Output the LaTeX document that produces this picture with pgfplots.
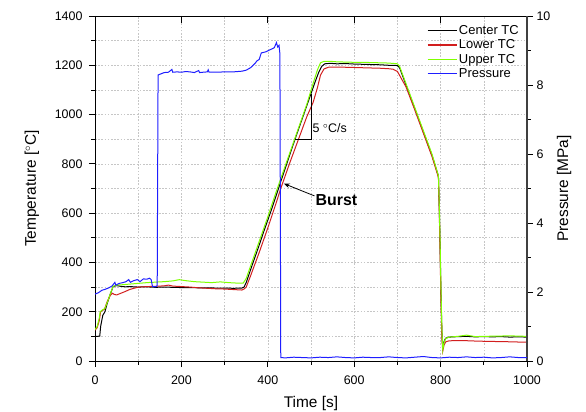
\documentclass[border=0pt]{standalone}
\usepackage{fontspec}
\setmainfont{Liberation Sans}
\usepackage{pgfplots}
\pgfplotsset{compat=1.18}
\usetikzlibrary{arrows.meta}
\definecolor{tcred}{RGB}{210,30,30}
\definecolor{tcgreen}{RGB}{128,255,0}
\definecolor{pblue}{RGB}{30,30,255}
\begin{document}
\begin{tikzpicture}
\path[use as bounding box] (0,0) rectangle (586bp,412bp);
\pgfplotsset{
  base/.style={
    scale only axis, width=432bp, height=345bp,
    at={(95bp,51bp)}, anchor=south west,
    xmin=0, xmax=1000,
    tick label style={font=\fontsize{12.5}{14}\selectfont},
    /pgf/number format/assume math mode=true,
    /pgf/number format/set thousands separator={},
    major tick length=6bp, minor tick length=3.5bp,
    every tick/.style={black, line width=0.8bp},
    axis line style={line width=0.9bp},
    label style={font=\fontsize{15.5}{18}\selectfont},
  }
}
% temperature axis
\begin{axis}[base,
  ymin=0, ymax=1400,
  xtick={0,200,...,1000}, minor xtick={100,300,...,900},
  ytick={0,200,...,1400}, minor ytick={100,300,...,1300},
  xtick pos=bottom, ytick pos=left,
  tick align=outside,
  grid=both,
  major grid style={gray!45, dash pattern=on 1.6bp off 1.6bp, line width=0.6bp},
  minor grid style={gray!45, dash pattern=on 1.6bp off 1.6bp, line width=0.6bp},
  xticklabel style={yshift=-5bp},
  yticklabel style={xshift=-3bp},
  xlabel={Time [s]},
  ylabel={Temperature [$^\circ$C]},
  xlabel style={at={(axis description cs:0.5,-0.1246)}, anchor=center},
  ylabel style={at={(axis description cs:-0.146,0.5)}, anchor=center},
  legend style={at={(axis description cs:0.985,0.978)}, anchor=north east, draw=none, fill=none,
    font=\fontsize{13}{15}\selectfont, row sep=0.6bp, inner sep=0pt,
    nodes={inner sep=1.6bp}, cells={anchor=west}},
  legend image code/.code={\draw[#1, line width=1.3bp] (0bp,0bp) -- (29bp,0bp);},
]
\addplot[black, line width=1bp] table {
0 100
5 100
11 101
13 140
18 185
23 200
28 232
35 270
42 302
50 306
60 303
70 301
80 302
100 300
120 301
140 299
160 300
180 299
200 298
220 298
240 297
260 297
280 296
300 296
320 295
340 296
345 300
350 318
360 370
370 420
380 470
390 522
400 572
410 622
420 675
430 728
440 780
450 833
463 900
470 935
480 985
490 1035
500 1085
510 1135
518 1172
525 1196
532 1206
545 1208
560 1206
580 1207
600 1205
620 1204
640 1203
660 1202
680 1200
700 1199
705 1190
720 1120
740 1025
760 930
780 835
795 750
797 620
799 450
801 260
803 120
805 55
808 80
812 93
820 97
840 99
860 100
880 98
900 99
920 98
940 99
960 97
980 98
1000 97
};
\addlegendentry{Center TC}
\addplot[tcred, line width=1bp] table {
0 125
5 135
10 165
13 200
17 205
22 210
28 240
35 265
40 275
45 270
50 268
60 275
70 282
80 290
90 295
100 300
120 302
140 303
160 305
170 308
180 304
200 302
220 300
240 297
260 295
280 293
300 292
320 290
340 288
345 292
350 300
360 345
380 440
400 540
420 645
430 700
450 800
470 895
490 990
505 1050
515 1110
522 1160
530 1185
540 1192
560 1193
580 1192
600 1191
620 1190
640 1189
660 1188
680 1186
690 1184
700 1175
720 1112
740 1020
760 925
780 830
795 745
797 600
799 420
801 230
803 90
805 40
808 65
812 78
820 82
850 83
880 81
900 80
930 79
960 78
1000 76
};
\addlegendentry{Lower TC}
\addplot[tcgreen, line width=1bp] table {
0 128
5 140
10 175
12 200
17 207
23 213
30 245
36 275
42 303
50 308
60 309
80 312
100 315
120 318
140 320
160 322
180 325
195 330
210 326
230 322
250 320
270 318
290 321
310 318
330 316
343 316
350 335
360 385
380 485
400 585
420 690
430 740
450 840
470 940
490 1040
505 1127
515 1182
522 1210
530 1216
545 1216
560 1214
580 1213
600 1212
620 1212
640 1211
660 1210
680 1209
700 1206
705 1196
720 1125
740 1030
760 935
780 840
795 752
797 630
799 470
801 280
803 130
805 45
808 75
812 92
820 97
840 100
860 105
880 99
900 100
930 101
960 102
1000 100
};
\addlegendentry{Upper TC}
\addlegendimage{pblue, line width=1bp}
\addlegendentry{Pressure}
\addplot[black, line width=0.8bp, forget plot] coordinates {(463,900) (500,900) (500,1085)};
\node[anchor=west, font=\fontsize{12.5}{14}\selectfont, inner sep=1bp] at (axis cs:501,945) {5 $^\circ$C/s};
\draw[-{Stealth[length=6bp,width=4.5bp]}, line width=0.8bp] (axis cs:508,670) -- (axis cs:437,720);
\node[anchor=west, font=\bfseries\fontsize{16}{18}\selectfont, inner sep=1bp] at (axis cs:508,652) {Burst};
\end{axis}
% top axis with inward ticks
\begin{axis}[base,
  ymin=0, ymax=1400,
  axis y line=none, axis x line*=top,
  xtick={0,200,...,1000}, xticklabels={},
  major tick length=7bp,
  tick align=inside,
]
\end{axis}
% pressure axis
\begin{axis}[base,
  ymin=0, ymax=10,
  axis x line=none, axis y line*=right,
  ytick={0,2,...,10}, minor ytick={1,3,...,9},
  tick align=outside,
  axis line style={black!75, line width=1.3bp},
  ylabel={Pressure [MPa]},
  ylabel style={at={(axis description cs:1.086,0.5)}, anchor=center},
]
\addplot[pblue, line width=1bp] table {
0 1.94
8 1.98
16 2.05
24 2.08
32 2.12
40 2.18
46 2.28
48 2.20
56 2.25
64 2.27
72 2.30
78 2.36
82 2.28
90 2.33
98 2.36
104 2.30
112 2.38
120 2.37
126 2.40
130 2.36
133 2.16
140 2.15
144 2.18
146 8.29
152 8.32
160 8.36
170 8.37
178 8.45
180 8.37
190 8.38
200 8.37
210 8.39
220 8.38
230 8.36
240 8.42
242 8.36
250 8.37
260 8.38
262 8.44
264 8.37
280 8.37
300 8.38
320 8.38
340 8.40
350 8.43
360 8.50
370 8.62
375 8.70
380 8.74
385 8.93
395 8.96
405 9.02
415 9.08
420 9.23
423 9.10
426 9.15
428 8.90
430 0.10
440 0.09
460 0.11
480 0.10
500 0.09
520 0.11
540 0.10
560 0.12
580 0.10
600 0.09
620 0.11
640 0.10
660 0.10
680 0.12
700 0.10
720 0.09
740 0.11
760 0.13
780 0.10
800 0.09
820 0.11
840 0.10
860 0.12
880 0.10
900 0.11
920 0.09
940 0.10
960 0.12
980 0.10
1000 0.10
};
\end{axis}
\end{tikzpicture}
\end{document}
